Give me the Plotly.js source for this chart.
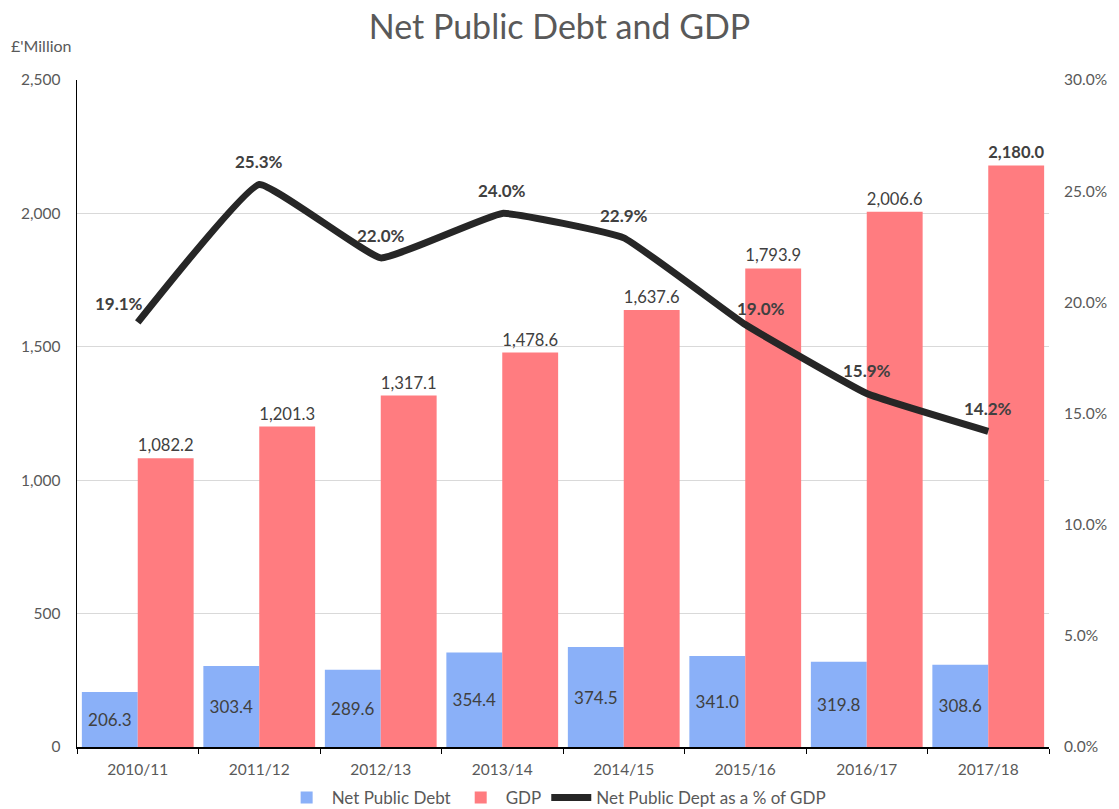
<!DOCTYPE html>
<html>
<head>
<meta charset="utf-8">
<script src="https://cdn.plot.ly/plotly-3.0.1.min.js"></script>
<style>html,body{margin:0;padding:0;background:#fff;}#chart{width:1119px;height:809px;}</style>
</head>
<body>
<div id="chart"></div>
<script>
const years = ["2010/11","2011/12","2012/13","2013/14","2014/15","2015/16","2016/17","2017/18"];
const netDebt = [206.3, 303.4, 289.6, 354.4, 374.5, 341.0, 319.8, 308.6];
const gdp = [1082.2, 1201.3, 1317.1, 1478.6, 1637.6, 1793.9, 2006.6, 2180.0];
const debtPct = [19.1, 25.3, 22.0, 24.0, 22.9, 19.0, 15.9, 14.2];
const leftTicks = [0, 500, 1000, 1500, 2000, 2500];
const rightTicks = [0, 5, 10, 15, 20, 25, 30];

const fmt = v => v.toLocaleString('en-US', {minimumFractionDigits: 1, maximumFractionDigits: 1});
const gdpText = gdp.map((v, i) => i === gdp.length - 1 ? '<b>' + fmt(v) + '</b>' : fmt(v));

const FONT = 'Lato, "Open Sans", sans-serif';
const GREY = '#595959';
const DARK = '#404040';

const traces = [
  {
    type: 'bar', name: 'Net Public Debt', x: years, y: netDebt,
    marker: {color: '#8AB0F8'},
    text: netDebt.map(fmt), textposition: 'inside', insidetextanchor: 'middle',
    textfont: {family: FONT, size: 17, color: DARK}, cliponaxis: false,
    hoverinfo: 'none'
  },
  {
    type: 'bar', name: 'GDP', x: years, y: gdp,
    marker: {color: '#FF7C80'},
    text: gdpText, textposition: 'outside',
    textfont: {family: FONT, size: 17, color: DARK}, cliponaxis: false,
    hoverinfo: 'none'
  },
  {
    type: 'scatter', mode: 'lines', name: 'Net Public Dept as a % of GDP',
    x: years, y: debtPct, yaxis: 'y2',
    line: {color: '#262626', width: 7, shape: 'spline', smoothing: 0.3},
    hoverinfo: 'none'
  }
];

const xShift = [-19, 0, 0, 0, 0, 16, 0, 0];
const yShift = [19, 23, 22, 23, 22, 16, 23, 23];
const annotations = debtPct.map((v, i) => ({
  x: years[i], y: v, xref: 'x', yref: 'y2', text: '<b>' + v.toFixed(1) + '%</b>',
  showarrow: false, xshift: xShift[i], yshift: yShift[i],
  font: {family: FONT, size: 17, color: DARK}
}));
annotations.push({
  xref: 'paper', yref: 'paper', x: 0, y: 1, xanchor: 'right', yanchor: 'bottom',
  xshift: -3, yshift: 23, text: "£'Million", showarrow: false,
  font: {family: FONT, size: 16, color: GREY}
});

const layout = {
  width: 1119, height: 809,
  margin: {l: 77, r: 70, t: 80, b: 62},
  paper_bgcolor: '#fff', plot_bgcolor: '#fff',
  title: {text: 'Net Public Debt and GDP', x: 0.5, xanchor: 'center', y: 0.967, yanchor: 'middle',
          font: {family: FONT, size: 34, color: GREY}},
  barmode: 'group', bargap: 0.08, bargroupgap: 0,
  showlegend: true,
  legend: {orientation: 'h', xref: 'container', yref: 'container', x: 0.497, xanchor: 'center', y: 0.0136, yanchor: 'middle',
           font: {family: FONT, size: 17, color: GREY}, itemwidth: 40, tracegroupgap: 0},
  xaxis: {
    type: 'category', tickson: 'boundaries', ticks: 'outside', ticklen: 5, tickcolor: '#000',
    showline: true, linecolor: '#000', linewidth: 1.5, showgrid: false,
    tickfont: {family: FONT, size: 15.5, color: GREY}, ticklabelstandoff: 8, fixedrange: true
  },
  yaxis: {
    range: [0, 2500], tickvals: leftTicks, tickformat: ',', showline: true, linecolor: '#000', linewidth: 1.5,
    showgrid: true, gridcolor: '#d9d9d9', gridwidth: 1, zeroline: false, ticks: '',
    tickfont: {family: FONT, size: 15.5, color: GREY}, ticklabelstandoff: 12, fixedrange: true
  },
  yaxis2: {
    overlaying: 'y', side: 'right', range: [0, 30], tickvals: rightTicks,
    ticktext: rightTicks.map(v => v.toFixed(1) + '%'),
    showgrid: false, zeroline: false, showline: false,
    tickfont: {family: FONT, size: 15.5, color: GREY}, ticklabelstandoff: 14, fixedrange: true
  },
  annotations: annotations
};

Plotly.newPlot('chart', traces, layout, {displayModeBar: false, staticPlot: true});
</script>
</body>
</html>
